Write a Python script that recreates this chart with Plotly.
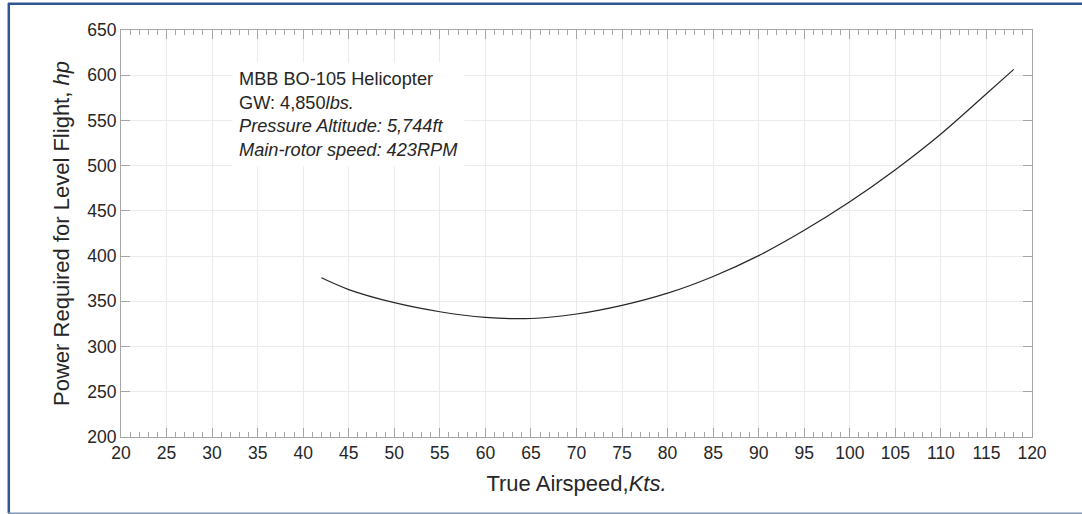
import plotly.graph_objects as go

# Data
airspeed_kts = [42, 45, 50, 55, 60, 65, 70, 75, 80, 85, 90, 95, 100, 105, 110, 115, 118]
power_hp = [376, 363, 348.5, 338.5, 332.3, 331, 336, 345.5, 359, 377.5, 400.5, 428.5, 460, 495.5, 535, 579.5, 606.5]

x_ticks = list(range(20, 121, 5))
y_ticks = list(range(200, 651, 50))

annotation_lines = [
    "MBB BO-105 Helicopter",
    "GW: 4,850<i>lbs.</i>",
    "<i>Pressure Altitude: 5,744ft</i>",
    "<i>Main-rotor speed: 423RPM</i>",
]

W, H = 1082, 514
L, R, T, B = 121, 50, 30, 77
pw, ph = W - L - R, H - T - B

def px2paper_x(px):
    return (px - L) / pw

def px2paper_y(py):
    return (H - B - py) / ph

FONT = "Liberation Sans, Arial, sans-serif"
TXT = "#262626"
AX = "#a6a6a6"

fig = go.Figure()
fig.add_trace(go.Scatter(
    x=airspeed_kts, y=power_hp, mode="lines",
    line=dict(color="#262626", width=1.2, shape="spline", smoothing=0.9),
    showlegend=False, hoverinfo="skip",
))

axis_common = dict(
    showline=True, linecolor=AX, linewidth=1, mirror="ticks",
    ticks="inside", ticklen=9, tickwidth=1, tickcolor=AX,
    showgrid=True, gridcolor="#ebebeb", gridwidth=1,
    zeroline=False,
    tickfont=dict(family=FONT, size=17.5, color=TXT),
)

fig.update_xaxes(
    range=[20, 120], tickmode="array", tickvals=x_ticks,
    ticktext=[str(v) for v in x_ticks],
    minor=dict(dtick=1, tick0=20, ticks="inside", ticklen=5, tickcolor=AX, showgrid=False),
    title=dict(text="True Airspeed,<i>Kts.</i>", font=dict(family=FONT, size=22, color=TXT), standoff=13),
    **axis_common,
)
fig.update_yaxes(
    range=[200, 650], tickmode="array", tickvals=y_ticks,
    ticktext=[str(v) for v in y_ticks],
    title=dict(text="Power Required for Level Flight, <i>hp</i>", font=dict(family=FONT, size=22, color=TXT), standoff=11),
    **axis_common,
)

fig.add_annotation(
    xref="paper", yref="paper",
    x=px2paper_x(232), y=px2paper_y(62),
    xanchor="left", yanchor="top", align="left",
    text="<br>".join(annotation_lines),
    showarrow=False, bgcolor="white", borderpad=6,
    font=dict(family=FONT, size=18.2, color=TXT),
)

# Outer frame border
fig.add_shape(type="line", xref="paper", yref="paper",
              x0=px2paper_x(8), x1=px2paper_x(1095), y0=px2paper_y(3.8), y1=px2paper_y(3.8),
              line=dict(color="#2f5597", width=2.5))
fig.add_shape(type="line", xref="paper", yref="paper",
              x0=px2paper_x(8.8), x1=px2paper_x(8.8), y0=px2paper_y(3), y1=px2paper_y(513),
              line=dict(color="#2f5597", width=2.5))
fig.add_shape(type="line", xref="paper", yref="paper",
              x0=px2paper_x(8), x1=px2paper_x(1095), y0=px2paper_y(513.2), y1=px2paper_y(513.2),
              line=dict(color="#8497b0", width=1.5))

fig.update_layout(
    width=W, height=H,
    margin=dict(l=L, r=R, t=T, b=B, autoexpand=False),
    paper_bgcolor="white", plot_bgcolor="white",
    font=dict(family=FONT, color=TXT),
)

fig.write_html(
    "out.html",
    config={"displayModeBar": False},
    post_script="document.body.style.margin='0';document.body.style.padding='0';document.body.style.overflow='hidden';",
)
